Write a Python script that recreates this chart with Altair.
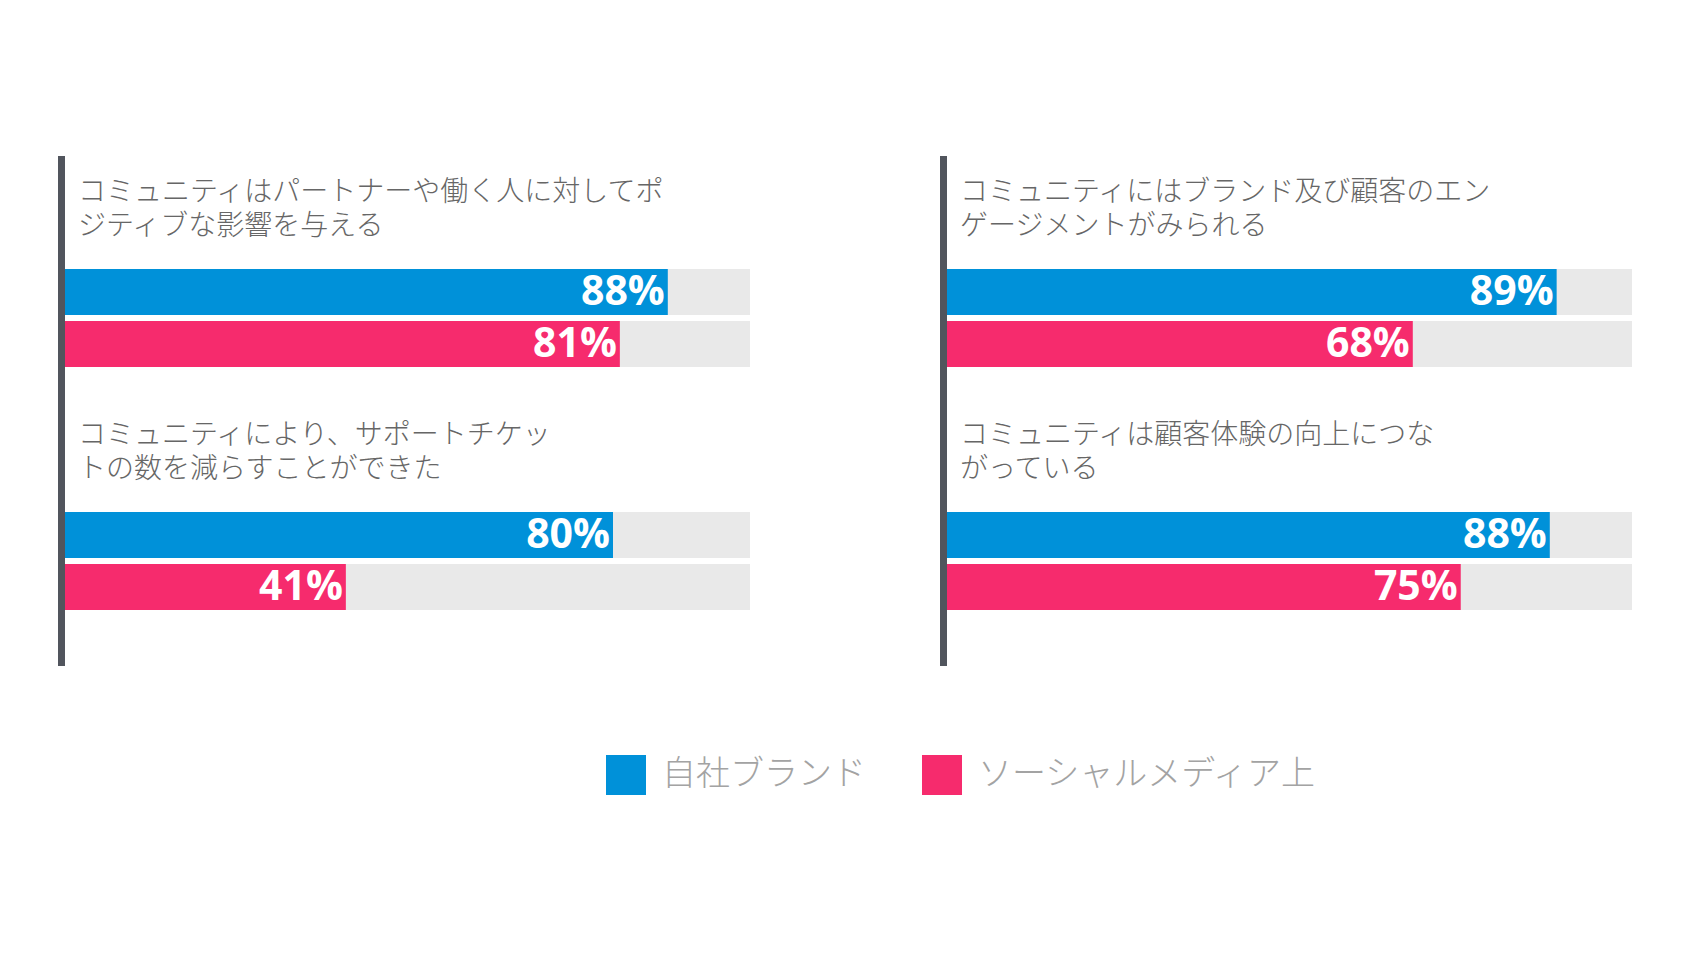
import altair as alt
import pandas as pd

questions = [
    ["コミュニティはパートナーや働く人に対してポ", "ジティブな影響を与える"],
    ["コミュニティにより、サポートチケッ", "トの数を減らすことができた"],
    ["コミュニティにはブランド及び顧客のエン", "ゲージメントがみられる"],
    ["コミュニティは顧客体験の向上につな", "がっている"],
]
series_names = ["自社ブランド", "ソーシャルメディア上"]
own_brand = [88, 80, 89, 88]
social_media = [81, 41, 68, 75]
colors = ["#0091d9", "#f62b6d"]

TITLE_FONT = "Noto Sans CJK JP"
W = 685
H = 98


def group_chart(i, top):
    df = pd.DataFrame({
        "series": series_names,
        "value": [own_brand[i], social_media[i]],
    })
    df["label"] = df["value"].astype(str) + "%"
    df["full"] = 100
    y = alt.Y("series:N", sort=series_names, axis=None,
              scale=alt.Scale(paddingInner=0.1154, paddingOuter=0))
    xs = alt.Scale(domain=[0, 100])
    base = alt.Chart(df)
    track = base.mark_bar(color="#e9e9e9").encode(
        x=alt.X("full:Q", scale=xs, axis=None), y=y)
    bars = base.mark_bar().encode(
        x=alt.X("value:Q", scale=xs, axis=None), y=y,
        color=alt.Color("series:N", sort=series_names,
                        scale=alt.Scale(domain=series_names, range=colors),
                        title=None))
    labels = base.mark_text(align="right", baseline="middle", dx=-3, dy=1,
                            font="Open Sans", fontWeight="bold", fontSize=41,
                            color="white").encode(
        x=alt.X("value:Q", scale=xs, axis=None), y=y, text="label:N")
    if top:
        y_top, y_bot, off = -113, H + 30, -88
    else:
        y_top, y_bot, off = -115, H + 56, -90
    rule = alt.Chart(df).mark_rule(color="#51555d", strokeWidth=7).encode(
        x=alt.value(-3.5), y=alt.value(y_top), y2=alt.value(y_bot))
    return alt.layer(track, bars, labels, rule).properties(
        width=W, height=H,
        title=alt.TitleParams(text=questions[i], anchor="start", frame="group",
                              dx=13, fontSize=28, font=TITLE_FONT,
                              fontWeight=300, color="#666666",
                              lineHeight=34, offset=off),
    )


chart = alt.concat(
    group_chart(0, True), group_chart(2, True),
    group_chart(1, False), group_chart(3, False),
    columns=2, align="each",
    spacing=alt.RowColnumber(row=-8, column=190),
).properties(
    padding={"left": 50, "top": 144, "right": 10, "bottom": 10},
    background="white",
).configure_view(stroke=None).configure_legend(
    orient="none", legendX=541, legendY=486, direction="horizontal",
    symbolType="square", symbolSize=1600, symbolStrokeWidth=0,
    labelFontSize=34, labelFont=TITLE_FONT, labelFontWeight=300,
    labelColor="#a3a3a3",
    labelOffset=16, columnPadding=56, labelLimit=600,
)

chart.save("out.html", embed_options={"renderer": "svg", "actions": False})
